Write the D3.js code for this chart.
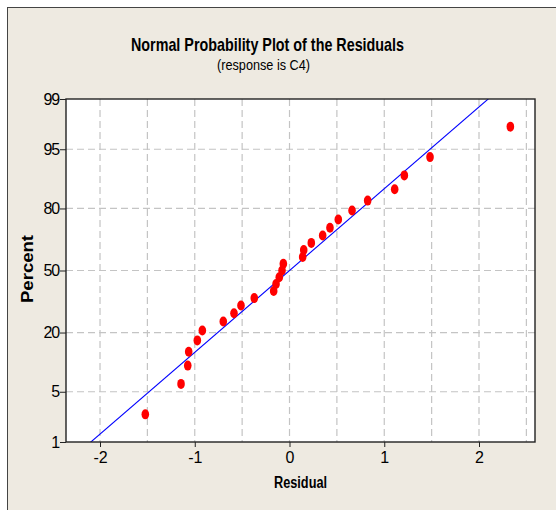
<!DOCTYPE html>
<html><head><meta charset="utf-8">
<script src="https://cdn.jsdelivr.net/npm/d3@7"></script>
<style>body{margin:0;background:#fff;} svg{display:block;}</style>
</head><body>
<svg id="chart" width="556" height="510"></svg>
<script>
// Residuals (sorted)
const residuals = [-1.522, -1.145, -1.074, -1.064, -0.973, -0.920, -0.699, -0.586, -0.512, -0.372,
  -0.167, -0.142, -0.108, -0.079, -0.065, 0.139, 0.150, 0.230, 0.350, 0.427,
  0.515, 0.660, 0.825, 1.110, 1.212, 1.483, 2.331];
// Plotting positions (percent)
const percents = [2.55, 6.20, 9.85, 13.50, 17.15, 20.80, 24.45, 28.10, 31.75, 35.40,
  39.05, 42.70, 46.35, 50.00, 53.65, 57.30, 60.95, 64.60, 68.25, 71.90,
  75.55, 79.20, 82.85, 86.50, 90.15, 93.80, 97.45];
const yTicks = [1, 5, 20, 50, 80, 95, 99];
const xTicks = [-2, -1, 0, 1, 2];
const xGrid = [-2, -1.5, -1, -0.5, 0, 0.5, 1, 1.5, 2, 2.5];
const yGrid = [5, 20, 50, 80, 95];
const xDomain = [-2.359, 2.591];
const title = "Normal Probability Plot of the Residuals";
const subtitle = "(response is C4)";

function invNorm(p) {
  const a=[-3.969683028665376e+01,2.209460984245205e+02,-2.759285104469687e+02,1.383577518672690e+02,-3.066479806614716e+01,2.506628277459239e+00];
  const b=[-5.447609879822406e+01,1.615858368580409e+02,-1.556989798598866e+02,6.680131188771972e+01,-1.328068155288572e+01];
  const c=[-7.784894002430293e-03,-3.223964580411365e-01,-2.400758277161838e+00,-2.549671669989106e+00,4.374664141464968e+00,2.938163982698783e+00];
  const d=[7.784695709041462e-03,3.224671290700398e-01,2.445134137142996e+00,3.754408661907416e+00];
  const pl=0.02425, ph=1-pl; let q,r;
  if(p<pl){q=Math.sqrt(-2*Math.log(p));return (((((c[0]*q+c[1])*q+c[2])*q+c[3])*q+c[4])*q+c[5])/((((d[0]*q+d[1])*q+d[2])*q+d[3])*q+1);}
  if(p<=ph){q=p-0.5;r=q*q;return (((((a[0]*r+a[1])*r+a[2])*r+a[3])*r+a[4])*r+a[5])*q/(((((b[0]*r+b[1])*r+b[2])*r+b[3])*r+b[4])*r+1);}
  q=Math.sqrt(-2*Math.log(1-p));return -(((((c[0]*q+c[1])*q+c[2])*q+c[3])*q+c[4])*q+c[5])/((((d[0]*q+d[1])*q+d[2])*q+d[3])*q+1);
}

const svg = d3.select("#chart");
const L=66, R=535, T=99, B=442;
const x = d3.scaleLinear().domain(xDomain).range([L, R]);
const y = d3.scaleLinear().domain([invNorm(0.01), invNorm(0.99)]).range([B, T]);
const yp = p => y(invNorm(p/100));

// outer background
svg.append("rect").attr("x",7).attr("y",7).attr("width",549).attr("height",503).attr("fill","#EEEAE1");
svg.append("line").attr("x1",7).attr("x2",556).attr("y1",7.5).attr("y2",7.5).attr("stroke","#444").attr("stroke-width",1);
svg.append("line").attr("x1",7.5).attr("x2",7.5).attr("y1",7).attr("y2",510).attr("stroke","#444").attr("stroke-width",1);

// plot area
svg.append("rect").attr("x",L).attr("y",T).attr("width",R-L).attr("height",B-T).attr("fill","#fff");

svg.append("clipPath").attr("id","clip").append("rect").attr("x",L).attr("y",T).attr("width",R-L).attr("height",B-T);

// grid
svg.append("g").selectAll("line").data(xGrid).join("line")
  .attr("x1",d=>x(d)).attr("x2",d=>x(d)).attr("y1",T).attr("y2",B)
  .attr("stroke","#c4c4c4").attr("stroke-width",1.2).attr("stroke-dasharray","7,4");
svg.append("g").selectAll("line").data(yGrid).join("line")
  .attr("x1",L).attr("x2",R).attr("y1",d=>yp(d)).attr("y2",d=>yp(d))
  .attr("stroke","#c4c4c4").attr("stroke-width",1.2).attr("stroke-dasharray","7,4");

// fitted line from the data
const mean = d3.mean(residuals), sd = d3.deviation(residuals);
const zLo = invNorm(0.001), zHi = invNorm(0.999);
svg.append("line").attr("clip-path","url(#clip)")
  .attr("x1", x(mean+sd*zLo)).attr("y1", y(zLo))
  .attr("x2", x(mean+sd*zHi)).attr("y2", y(zHi))
  .attr("stroke","#0000ff").attr("stroke-width",1.1);

// points
svg.append("g").selectAll("ellipse").data(residuals).join("ellipse")
  .attr("cx",d=>x(d)).attr("cy",(d,i)=>yp(percents[i]))
  .attr("rx",3.8).attr("ry",5).attr("fill","#ff0000");

// frame
svg.append("rect").attr("x",L).attr("y",T).attr("width",R-L).attr("height",B-T)
  .attr("fill","none").attr("stroke","#222").attr("stroke-width",1.4);

// axes
const font = "'Liberation Sans', Arial, sans-serif";
const xAxis = d3.axisBottom(x).tickValues(xTicks).tickSize(5).tickPadding(4).tickFormat(d => String(d));
const gx = svg.append("g").attr("transform",`translate(0,${B})`).call(xAxis);
gx.select(".domain").remove();
gx.selectAll("line").attr("stroke","#222");
gx.selectAll("text").attr("font-family",font).attr("font-size",16).attr("fill","#000").attr("dy","0.72em");

const yAxis = d3.axisLeft(y).tickValues(yTicks.map(p=>invNorm(p/100))).tickSize(6).tickPadding(1)
  .tickFormat((d,i)=>yTicks[i]);
const gy = svg.append("g").attr("transform",`translate(${L},0)`).call(yAxis);
gy.select(".domain").remove();
gy.selectAll("line").attr("stroke","#222");
gy.selectAll("text").attr("font-family",font).attr("font-size",16).attr("fill","#000").attr("letter-spacing","-1.2");

// titles
svg.append("text").attr("x",267.5).attr("y",51).attr("text-anchor","middle")
  .attr("font-family",font).attr("font-weight","bold").attr("font-size",19)
  .attr("textLength",273).attr("lengthAdjust","spacingAndGlyphs").text(title);
svg.append("text").attr("x",263.5).attr("y",70).attr("text-anchor","middle")
  .attr("font-family",font).attr("font-size",15)
  .attr("textLength",93).attr("lengthAdjust","spacingAndGlyphs").text(subtitle);
svg.append("text").attr("x",300.5).attr("y",488).attr("text-anchor","middle")
  .attr("font-family",font).attr("font-weight","bold").attr("font-size",16)
  .attr("textLength",53).attr("lengthAdjust","spacingAndGlyphs").text("Residual");
svg.append("text").attr("transform","translate(33,269) rotate(-90)").attr("text-anchor","middle")
  .attr("font-family",font).attr("font-weight","bold").attr("font-size",16)
  .attr("textLength",68).attr("lengthAdjust","spacingAndGlyphs").text("Percent");
</script>
</body></html>
